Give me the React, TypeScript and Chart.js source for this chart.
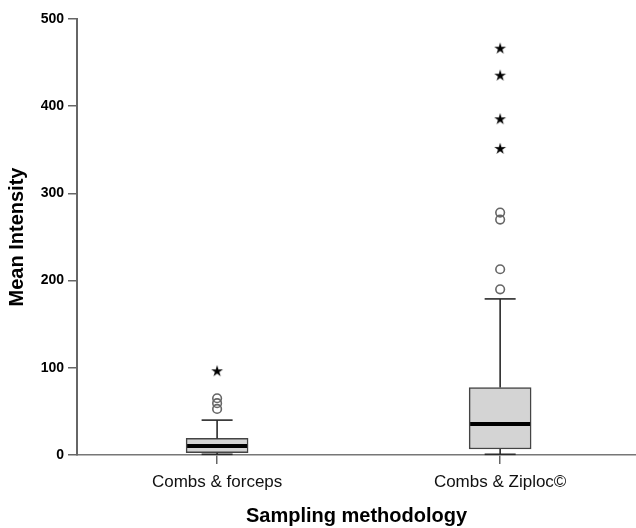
import { useEffect, useRef } from 'react';
import { Chart, registerables } from 'chart.js';

Chart.register(...registerables);

const categories = ['Combs & forceps', 'Combs & Ziploc©'];
const whiskerLow = [0.8, 0.8];
const q1 = [2.6, 6.9];
const medians = [10.3, 35.6];
const q3 = [19, 77.3];
const whiskerHigh = [40, 179];
const circleOutliers = [[52.8, 59.4, 65.1], [190, 213, 270, 278]];
const starOutliers = [[96], [351, 385, 435, 466]];
const yTicks = [0, 100, 200, 300, 400, 500];

const FONT = 'Arial, "Liberation Sans", Helvetica, sans-serif';

function makeStar(): HTMLCanvasElement {
  const c = document.createElement('canvas');
  c.width = 16;
  c.height = 16;
  const ctx = c.getContext('2d')!;
  ctx.fillStyle = '#000';
  ctx.beginPath();
  const cx = 8, cy = 8, R = 6.2, r = 2.3;
  for (let i = 0; i < 10; i++) {
    const a = -Math.PI / 2 + (i * Math.PI) / 5;
    const rad = i % 2 === 0 ? R : r;
    const px = cx + rad * Math.cos(a);
    const py = cy + rad * Math.sin(a);
    if (i === 0) ctx.moveTo(px, py);
    else ctx.lineTo(px, py);
  }
  ctx.closePath();
  ctx.fill();
  return c;
}

const boxPlugin = {
  id: 'boxWhisker',
  afterDatasetDraw(chart: any, args: any) {
    if (args.index !== 0) return;
    const { ctx } = chart;
    const x = chart.scales.x;
    const y = chart.scales.y;
    const meta = chart.getDatasetMeta(0);
    const line = (x1: number, y1: number, x2: number, y2: number) => {
      ctx.beginPath();
      ctx.moveTo(x1, y1);
      ctx.lineTo(x2, y2);
      ctx.stroke();
    };
    ctx.save();
    categories.forEach((_, i) => {
      const bar = meta.data[i];
      const w = bar.getProps(['width'], true).width;
      const cx = x.getPixelForValue(i);
      const half = w / 2;
      const capHalf = w / 4;
      ctx.lineCap = 'butt';
      ctx.strokeStyle = '#2a2a2a';
      ctx.lineWidth = 1.6;
      const yq3 = y.getPixelForValue(q3[i]);
      const yq1 = y.getPixelForValue(q1[i]);
      const yHi = y.getPixelForValue(whiskerHigh[i]);
      const yLo = y.getPixelForValue(whiskerLow[i]);
      line(cx, yq3, cx, yHi);
      line(cx - capHalf, yHi, cx + capHalf, yHi);
      line(cx, yq1, cx, yLo);
      line(cx - capHalf, yLo, cx + capHalf, yLo);
      ctx.strokeStyle = '#000';
      ctx.lineWidth = 4;
      const my = y.getPixelForValue(medians[i]);
      line(cx - half + 1, my, cx + half - 1, my);
    });
    ctx.restore();
  },
};

export default function App() {
  const ref = useRef<HTMLCanvasElement | null>(null);

  useEffect(() => {
    document.body.style.margin = '0';
    const canvas = ref.current;
    if (!canvas) return;
    const star = makeStar();

    const circlePts: any[] = [];
    circleOutliers.forEach((arr, i) => arr.forEach((v) => circlePts.push({ x: i, y: v })));
    const starPts: any[] = [];
    starOutliers.forEach((arr, i) => arr.forEach((v) => starPts.push({ x: i, y: v })));

    const chart = new Chart(canvas, {
      type: 'bar',
      data: {
        datasets: [
          {
            type: 'bar',
            data: categories.map((_, i) => ({ x: i, y: [q1[i], q3[i]] })) as any,
            backgroundColor: '#d4d4d4',
            borderColor: '#444',
            borderWidth: 1.5,
            borderSkipped: false,
            barThickness: 62,
          } as any,
          {
            type: 'line',
            data: circlePts,
            showLine: false,
            pointStyle: 'circle',
            pointRadius: 4.3,
            pointBorderWidth: 1.6,
            pointBorderColor: '#666',
            pointBackgroundColor: 'rgba(0,0,0,0)',
          } as any,
          {
            type: 'line',
            data: starPts,
            showLine: false,
            pointStyle: star,
            pointRadius: 6,
          } as any,
        ],
      },
      options: {
        responsive: false,
        maintainAspectRatio: false,
        animation: false,
        layout: { autoPadding: false, padding: { top: 19, left: 0, right: 0, bottom: 0 } },
        plugins: {
          legend: { display: false },
          tooltip: { enabled: false },
        },
        scales: {
          x: {
            type: 'linear',
            min: -0.495,
            max: 1.48,
            offset: false,
            afterBuildTicks: (s: any) => {
              s.ticks = categories.map((_, i) => ({ value: i }));
            },
            grid: {
              display: true,
              drawOnChartArea: false,
              drawTicks: true,
              tickLength: 9,
              offset: false,
              color: '#666',
              lineWidth: 1.5,
            },
            border: { display: true, color: '#777', width: 1.5 },
            ticks: {
              color: '#111',
              font: { family: FONT, size: 17 },
              padding: 8,
              maxRotation: 0,
              autoSkip: false,
              callback: (v: any) => categories[Math.round(Number(v))] ?? '',
            },
            title: {
              display: true,
              text: 'Sampling methodology',
              color: '#000',
              font: { family: FONT, size: 20, weight: 'bold' },
              padding: { top: 0, bottom: 0 },
            },
            afterFit: (s: any) => {
              s.height = 73;
            },
          },
          y: {
            min: 0,
            max: 500,
            afterBuildTicks: (s: any) => {
              s.ticks = yTicks.map((v) => ({ value: v }));
            },
            grid: {
              display: true,
              drawOnChartArea: false,
              drawTicks: true,
              tickLength: 9,
              color: '#666',
              lineWidth: 1.5,
            },
            border: { display: true, color: '#666', width: 2 },
            ticks: { color: '#000', font: { family: FONT, size: 14, weight: 'bold' }, padding: 4 },
            title: {
              display: true,
              text: 'Mean Intensity',
              color: '#000',
              font: { family: FONT, size: 20, weight: 'bold' },
              padding: { top: 5, bottom: 0 },
            },
            afterFit: (s: any) => {
              s.width = 77;
            },
          },
        },
      } as any,
      plugins: [boxPlugin],
    });
    return () => chart.destroy();
  }, []);

  return (
    <canvas ref={ref} width={636} height={528} style={{ display: 'block', width: 636, height: 528 }} />
  );
}
